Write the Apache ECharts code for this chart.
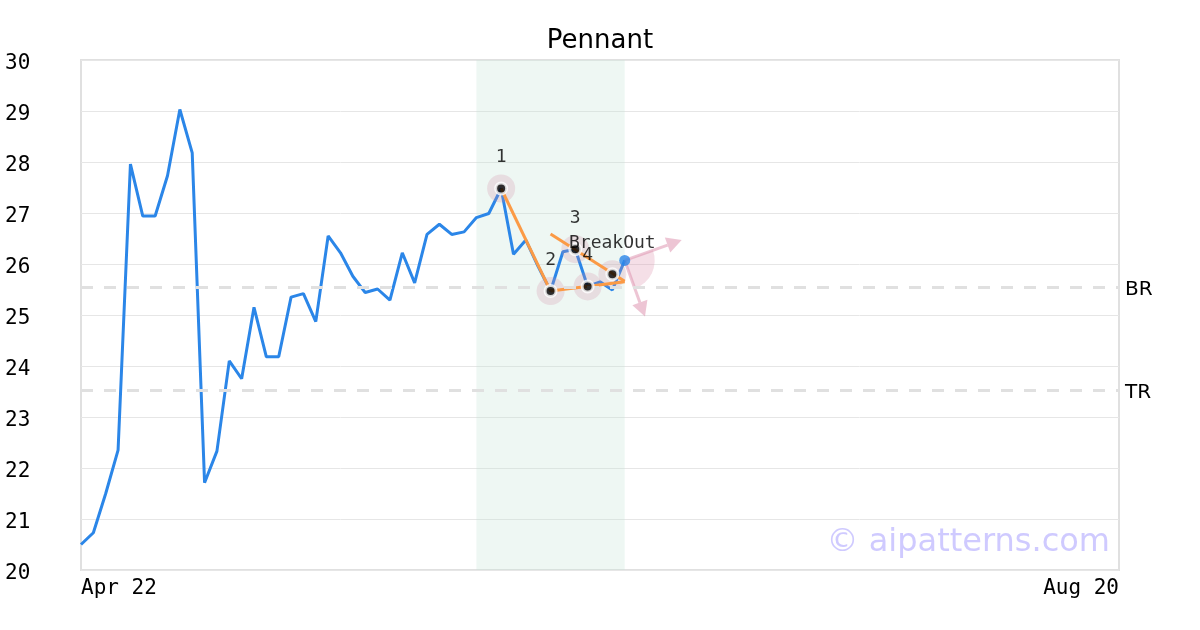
<!DOCTYPE html>
<html>
<head>
<meta charset="utf-8">
<script src="https://cdn.jsdelivr.net/npm/echarts@6/dist/echarts.min.js"></script>
<style>
html,body{margin:0;padding:0;background:#fff;}
#chart{width:1200px;height:630px;}
</style>
</head>
<body>
<div id="chart"></div>
<script>
// ---- data ----
const categories = [
  'Apr 22','Apr 23','Apr 24','Apr 25','Apr 26','Apr 29','Apr 30',
  'May 1','May 2','May 3','May 6','May 7','May 8','May 9','May 10','May 13','May 14','May 15','May 16','May 17','May 20','May 21','May 22','May 23','May 24','May 28','May 29','May 30','May 31',
  'Jun 3','Jun 4','Jun 5','Jun 6','Jun 7','Jun 10','Jun 11','Jun 12','Jun 13','Jun 14','Jun 17','Jun 18','Jun 19','Jun 20','Jun 21','Jun 24','Jun 25','Jun 26','Jun 27','Jun 28',
  'Jul 1','Jul 2','Jul 3','Jul 5','Jul 8','Jul 9','Jul 10','Jul 11','Jul 12','Jul 15','Jul 16','Jul 17','Jul 18','Jul 19','Jul 22','Jul 23','Jul 24','Jul 25','Jul 26','Jul 29','Jul 30','Jul 31',
  'Aug 1','Aug 2','Aug 5','Aug 6','Aug 7','Aug 8','Aug 9','Aug 12','Aug 13','Aug 14','Aug 15','Aug 16','Aug 19','Aug 20'
];
const priceValues = [
  20.5, 20.73, 21.5, 22.35, 27.96, 26.94, 26.94, 27.73, 29.03, 28.18,
  21.71, 22.33, 24.1, 23.75, 25.15, 24.18, 24.18, 25.35, 25.42, 24.87,
  26.55, 26.22, 25.76, 25.44, 25.51, 25.29, 26.22, 25.63, 26.58, 26.78,
  26.58, 26.63, 26.91, 26.99, 27.48, 26.19, 26.47, 25.95, 25.47, 26.24,
  26.29, 25.56, 25.65, 25.49, 26.07
];
const yMin = 20, yMax = 30, yStep = 1;
const levelNames = ['BR', 'TR'];
const levelValues = [25.55, 23.53];
const patternX = [34, 38, 40, 41, 43];
const patternY = [27.48, 25.47, 26.29, 25.56, 25.8];
const patternLabels = ['1', '2', '3', '4', 'BreakOut'];
const trendLines = [
  [[34, 27.48], [38, 25.47]],
  [[38, 26.59], [44, 25.66]],
  [[38, 25.47], [44, 25.65]]
];
const highlightRange = [32, 44];
const breakoutTargets = [[48.61, 26.47], [45.64, 24.97]];

// ---- chart ----
const chart = echarts.init(document.getElementById('chart'), null, {renderer: 'canvas'});
const lastIdx = priceValues.length - 1;
const lineData = priceValues.map((v, i) => [i, v]);
const pointData = patternX.map((x, i) => ({value: [x, patternY[i]], label: {formatter: patternLabels[i]}}));

const pink = 'rgba(220,140,170,0.5)';
const series = [
  {
    type: 'line', data: lineData, showSymbol: false, z: 2,
    lineStyle: {color: '#2b86e8', width: 3}, itemStyle: {color: '#2b86e8'},
    markArea: {
      silent: true,
      itemStyle: {color: 'rgba(200,230,215,0.3)'},
      data: [[{xAxis: highlightRange[0]}, {xAxis: highlightRange[1]}]]
    },
    markLine: {
      silent: true, symbol: 'none',
      lineStyle: {color: '#e0e0e0', width: 3, type: [12, 11]},
      label: {position: 'end', distance: 6, color: '#000', fontFamily: 'DejaVu Sans', fontSize: 20,
              verticalAlign: 'top', lineHeight: 5, formatter: p => p.name},
      data: levelValues.map((v, i) => ({yAxis: v, name: levelNames[i]}))
    }
  },
  {
    type: 'scatter', data: patternX.map((x, i) => [x, patternY[i]]), z: 3, silent: true,
    symbolSize: 28, itemStyle: {color: 'rgba(210,140,165,0.3)'}
  }
];
trendLines.forEach(seg => {
  series.push({
    type: 'line', data: seg, showSymbol: false, z: 4, silent: true,
    lineStyle: {color: '#fb9a45', width: 3}
  });
});
series.push({
  type: 'custom', z: 4, silent: true,
  data: [[lastIdx, priceValues[lastIdx]]],
  renderItem: function (params, api) {
    const o = api.coord([api.value(0), api.value(1)]);
    const tips = breakoutTargets.map(t => api.coord(t));
    const angs = tips.map(t => Math.atan2(t[1] - o[1], t[0] - o[0]));
    const children = [{
      type: 'sector',
      shape: {cx: o[0], cy: o[1], r0: 0, r: 30, startAngle: angs[0], endAngle: angs[1], clockwise: true},
      style: {fill: 'rgba(220,140,170,0.28)'}
    }];
    tips.forEach(t => {
      const dx = t[0] - o[0], dy = t[1] - o[1];
      const len = Math.sqrt(dx * dx + dy * dy);
      const ux = dx / len, uy = dy / len;
      const hl = 15, hw = 8;
      const bx = t[0] - ux * hl, by = t[1] - uy * hl;
      children.push({
        type: 'line', shape: {x1: o[0], y1: o[1], x2: bx, y2: by},
        style: {stroke: pink, lineWidth: 3}
      });
      children.push({
        type: 'polygon',
        shape: {points: [[t[0], t[1]], [bx - uy * hw, by + ux * hw], [bx + uy * hw, by - ux * hw]]},
        style: {fill: pink}
      });
    });
    return {type: 'group', children: children};
  }
});
series.push({
  type: 'scatter', data: pointData, z: 5, silent: true,
  symbolSize: 11, itemStyle: {color: '#000', borderColor: '#fff', borderWidth: 3},
  label: {show: true, position: 'inside', offset: [0, -31], color: '#000',
          fontFamily: 'DejaVu Sans Mono', fontSize: 18}
});
series.push({
  type: 'scatter', data: [[lastIdx, priceValues[lastIdx]]], z: 6, silent: true,
  symbolSize: 11, itemStyle: {color: '#2b86e8'}
});

chart.setOption({
  animation: false,
  backgroundColor: '#fff',
  title: {
    text: 'Pennant', left: 'center', top: 23,
    textStyle: {fontFamily: 'DejaVu Sans', fontSize: 26, fontWeight: 'normal', color: '#000'}
  },
  grid: {left: 81, right: 81, top: 60, bottom: 60, show: true, borderColor: '#e0e0e0', borderWidth: 2, containLabel: false},
  xAxis: {
    type: 'value', min: 0, max: categories.length - 1, interval: categories.length - 1,
    axisLine: {show: false}, axisTick: {show: false}, splitLine: {show: false},
    axisLabel: {
      margin: 8, color: '#000', fontFamily: 'DejaVu Sans Mono', fontSize: 21,
      alignMinLabel: 'left', alignMaxLabel: 'right',
      formatter: v => categories[Math.round(v)] || ''
    }
  },
  yAxis: {
    type: 'value', min: yMin, max: yMax, interval: yStep,
    axisLine: {show: false}, axisTick: {show: false},
    splitLine: {lineStyle: {color: '#e6e6e6', width: 1}},
    axisLabel: {margin: 76, align: 'left', verticalAlign: 'top', lineHeight: 7,
                color: '#000', fontFamily: 'DejaVu Sans Mono', fontSize: 21}
  },
  graphic: [{
    type: 'text', z: 10, silent: true,
    style: {x: 1110, y: 543, text: '© aipatterns.com', align: 'right', verticalAlign: 'middle',
            font: '32px "DejaVu Sans"', fill: 'rgba(160,150,255,0.5)'}
  }],
  series: series
});
</script>
</body>
</html>
